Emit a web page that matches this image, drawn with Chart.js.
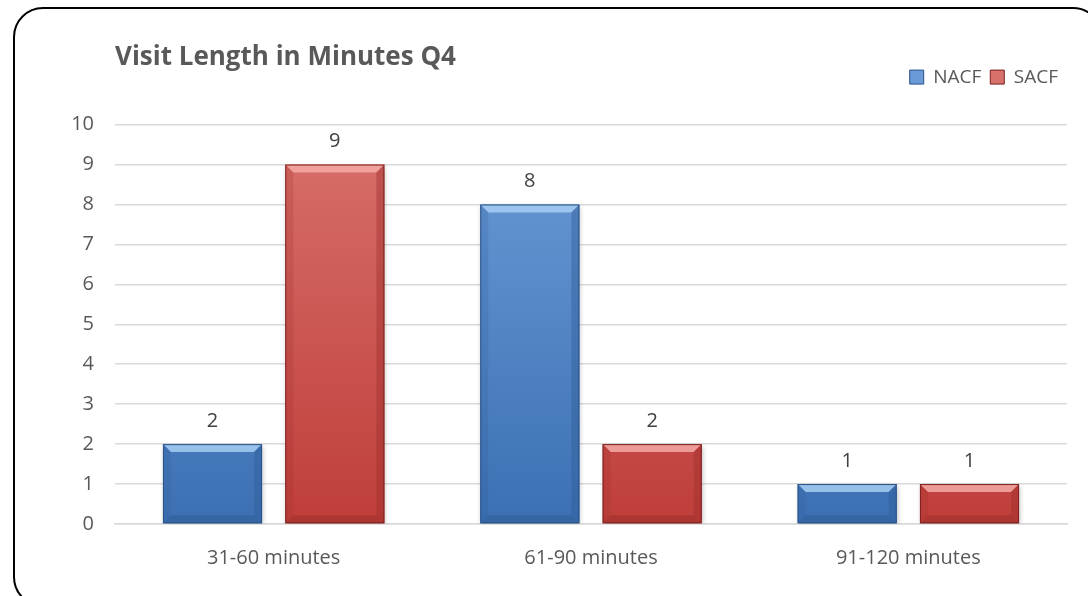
<!DOCTYPE html>
<html>
<head>
<meta charset="utf-8">
<script src="https://cdn.jsdelivr.net/npm/chart.js@4.4.0/dist/chart.umd.min.js"></script>
<style>
  html, body { margin: 0; padding: 0; background: #fff; }
  #wrap { position: relative; width: 1088px; height: 596px; overflow: hidden; }
  #frame {
    position: absolute; left: 13px; top: 7px; width: 1090px; height: 600px;
    border: 2px solid #000; border-radius: 30px; box-sizing: border-box;
  }
  canvas { position: absolute; left: 0; top: 0; }
</style>
</head>
<body>
<div id="wrap">
  <div id="frame"></div>
  <canvas id="chart" width="1088" height="596"></canvas>
</div>
<script>
// data
var categories = ['31-60 minutes', '61-90 minutes', '91-120 minutes'];
var nacf = [2, 8, 1];
var sacf = [9, 2, 1];
var seriesNames = ['NACF', 'SACF'];

var FONT = '"Open Sans", Lato, sans-serif';
var TEXT = '#595959';

// 막대 색상
var colors = {
  NACF: { top: '#6b9bd7', bottom: '#3c70b3', light: '#a6ccf3', dark: '#2d5b94', edge: '#2a5288' },
  SACF: { top: '#d8706c', bottom: '#bf3e3a', light: '#f4aaa6', dark: '#9a2d2a', edge: '#7d2220' }
};

function barGradient(name) {
  return function(context) {
    var chart = context.chart;
    var area = chart.chartArea;
    if (!area) return colors[name].top;
    var el = context.element;
    var top = el && isFinite(el.y) ? el.y : area.top;
    var base = el && isFinite(el.base) ? el.base : area.bottom;
    if (base - top < 2) { top = area.top; base = area.bottom; }
    var g = chart.ctx.createLinearGradient(0, top, 0, base);
    g.addColorStop(0, colors[name].top);
    g.addColorStop(1, colors[name].bottom);
    return g;
  };
}

// 그림자
var shadowPlugin = {
  id: 'barShadow',
  beforeDatasetsDraw: function(chart) {
    var ctx = chart.ctx;
    ctx.save();
    ctx.shadowColor = 'rgba(0,0,0,0.28)';
    ctx.shadowBlur = 5;
    ctx.shadowOffsetX = 1;
    ctx.shadowOffsetY = 2;
  },
  afterDatasetsDraw: function(chart) {
    chart.ctx.restore();
  }
};

// 베벨 + 값 라벨
var bevelPlugin = {
  id: 'bevel',
  afterDatasetsDraw: function(chart) {
    var ctx = chart.ctx;
    chart.data.datasets.forEach(function(ds, di) {
      var c = colors[ds.label];
      chart.getDatasetMeta(di).data.forEach(function(bar, i) {
        var l = bar.x - bar.width / 2, r = bar.x + bar.width / 2;
        var t = bar.y, b = bar.base;
        var s = Math.min(8, (b - t) / 2);
        ctx.save();
        // top
        ctx.fillStyle = c.light;
        ctx.globalAlpha = 0.85;
        ctx.beginPath();
        ctx.moveTo(l, t); ctx.lineTo(r, t); ctx.lineTo(r - s, t + s); ctx.lineTo(l + s, t + s);
        ctx.closePath(); ctx.fill();
        // right
        ctx.globalAlpha = 0.4;
        ctx.fillStyle = c.dark;
        ctx.beginPath();
        ctx.moveTo(r, t); ctx.lineTo(r, b); ctx.lineTo(r - s, b - s); ctx.lineTo(r - s, t + s);
        ctx.closePath(); ctx.fill();
        // left
        ctx.globalAlpha = 0.2;
        ctx.beginPath();
        ctx.moveTo(l, t); ctx.lineTo(l + s, t + s); ctx.lineTo(l + s, b - s); ctx.lineTo(l, b);
        ctx.closePath(); ctx.fill();
        // bottom
        ctx.globalAlpha = 0.5;
        ctx.beginPath();
        ctx.moveTo(l, b); ctx.lineTo(l + s, b - s); ctx.lineTo(r - s, b - s); ctx.lineTo(r, b);
        ctx.closePath(); ctx.fill();
        // edge
        ctx.globalAlpha = 1;
        ctx.strokeStyle = c.edge;
        ctx.lineWidth = 1;
        ctx.strokeRect(l + 0.5, t + 0.5, r - l - 1, b - t - 1);
        ctx.restore();

        // value
        ctx.save();
        ctx.fillStyle = '#404040';
        ctx.font = '20px ' + FONT;
        ctx.textAlign = 'center';
        ctx.textBaseline = 'middle';
        ctx.fillText(ds.data[i], bar.x, t - 23);
        ctx.restore();
      });
    });
  }
};

var ctx = document.getElementById('chart').getContext('2d');
var myChart = new Chart(ctx, {
  type: 'bar',
  data: {
    labels: categories,
    datasets: [
      { label: seriesNames[0], data: nacf, backgroundColor: barGradient('NACF') },
      { label: seriesNames[1], data: sacf, backgroundColor: barGradient('SACF') }
    ]
  },
  options: {
    responsive: false,
    animation: false,
    layout: { padding: { top: 0, left: 0, right: 21, bottom: 0 } },
    datasets: {
      bar: { categoryPercentage: 0.771, barPercentage: 0.81 }
    },
    scales: {
      x: {
        grid: { display: false },
        border: { display: true, color: '#d9d9d9', width: 1.5 },
        ticks: { color: TEXT, font: { family: FONT, size: 20 }, padding: 14 },
        afterFit: function(scale) { scale.height = 72; }
      },
      y: {
        min: 0, max: 10,
        ticks: { stepSize: 1, color: TEXT, font: { family: FONT, size: 20 }, padding: 21 },
        grid: { color: '#d9d9d9', lineWidth: 1.5, drawTicks: false },
        border: { display: false },
        afterFit: function(scale) { scale.width = 115; }
      }
    },
    plugins: {
      title: {
        display: true,
        text: 'Visit Length in Minutes Q4',
        align: 'start',
        fullSize: false,
        color: TEXT,
        font: { family: FONT, size: 26, weight: 'bold', lineHeight: 0.1 },
        padding: { top: 56, bottom: 0 }
      },
      legend: {
        display: true,
        align: 'end',
        fullSize: false,
        labels: {
          color: TEXT,
          font: { family: FONT, size: 19 },
          boxWidth: 14,
          boxHeight: 14,
          padding: 9,
          generateLabels: function(chart) {
            return chart.data.datasets.map(function(ds, i) {
              return {
                text: ds.label,
                fillStyle: colors[ds.label].top,
                strokeStyle: colors[ds.label].edge,
                lineWidth: 1,
                fontColor: TEXT,
                datasetIndex: i
              };
            });
          }
        }
      },
      subtitle: {
        display: true,
        text: ' ',
        weight: 500,
        fullSize: false,
        font: { size: 10, lineHeight: 1 },
        padding: { top: 18, bottom: 0 }
      },
      tooltip: { enabled: false }
    }
  },
  plugins: [shadowPlugin, bevelPlugin]
});
</script>
</body>
</html>
